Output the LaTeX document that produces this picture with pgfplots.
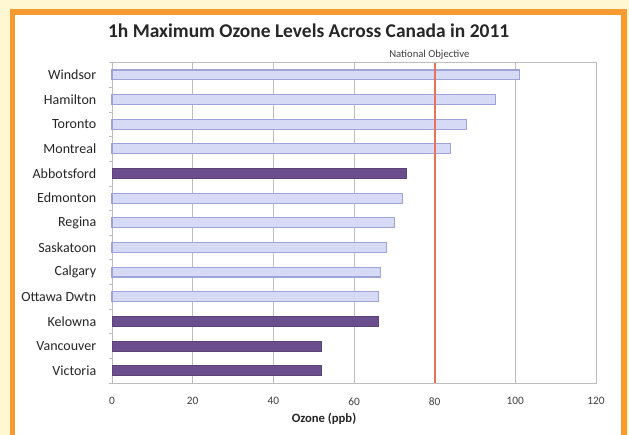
\documentclass[border=0pt]{standalone}
\usepackage{pgfplots}
\pgfplotsset{compat=1.18}
\usepackage{fontspec}
\setmainfont{Carlito}
\definecolor{bgyellow}{HTML}{FFF6D2}
\definecolor{frameorange}{HTML}{F79A32}
\definecolor{lightbar}{HTML}{D6DAF4}
\definecolor{lightedge}{HTML}{9EA4D8}
\definecolor{darkbar}{HTML}{6B4E8E}
\definecolor{redline}{HTML}{E8735A}
\definecolor{gridgray}{HTML}{BDBDBD}
\definecolor{textgray}{HTML}{404040}
\begin{document}
\begin{tikzpicture}
\path[use as bounding box] (0,0) rectangle (471.75pt,326.25pt);
\fill[bgyellow] (0,0) rectangle (471.75pt,326.25pt);
\fill[white] (9.4pt,0) rectangle (468pt,317.25pt);
\draw[frameorange, line width=4pt] (9.4pt,-5pt) -- (9.4pt,317.25pt) -- (468pt,317.25pt) -- (468pt,-5pt);
\node[font=\bfseries\fontsize{14.6}{16}\selectfont, text=black!85] at (231.5pt,303.5pt) {1h Maximum Ozone Levels Across Canada in 2011};
\node[font=\fontsize{8}{9}\selectfont, text=textgray] at (322pt,285pt) {National Objective};
\begin{axis}[
  at={(84pt,39pt)}, anchor=south west,
  scale only axis, width=363pt, height=240.3pt,
  xbar, bar width=7.4pt,
  xmin=0, xmax=120, ymin=-0.5, ymax=12.5,
  xtick={0,20,...,120},
  ytick={0,...,12},
  yticklabels={Victoria,Vancouver,Kelowna,Ottawa Dwtn,Calgary,Saskatoon,Regina,Edmonton,Abbotsford,Montreal,Toronto,Hamilton,Windsor},
  minor ytick={-0.5,0.5,...,12.5},
  ytick pos=left,
  major y tick style={draw=none},
  minor y tick style={gridgray, thin},
  /pgf/number format/assume math mode=true,
  y tick label style={font=\fontsize{10.5}{12}\selectfont, text=black!85, xshift=-4pt},
  x tick label style={font=\fontsize{8.5}{10}\selectfont, text=textgray, yshift=-3pt},
  xmajorgrids, grid style={gridgray, line width=0.6pt},
  major x tick style={draw=none},
  axis line style={gridgray, line width=0.6pt},
  tick align=outside, minor tick length=2.5pt,
  xlabel={\textbf{Ozone (ppb)}},
  xlabel style={font=\fontsize{9.5}{11}\selectfont, text=black!85, at={(axis description cs:0.438,0)}, anchor=north, yshift=-19pt},
  clip=false,
]
\addplot[fill=lightbar, draw=lightedge, line width=0.8pt, bar shift=0pt] coordinates {
 (101,12) (95,11) (88,10) (84,9) (72,7) (70,6) (68,5) (66.5,4) (66,3)
};
\addplot[fill=darkbar, draw=darkbar!85!black, line width=0.4pt, bar shift=0pt] coordinates {
 (73,8) (66,2) (52,1) (52,0)
};
\draw[redline, line width=1.5pt] (axis cs:80,-0.5) -- (axis cs:80,12.5);
\end{axis}
\end{tikzpicture}
\end{document}
